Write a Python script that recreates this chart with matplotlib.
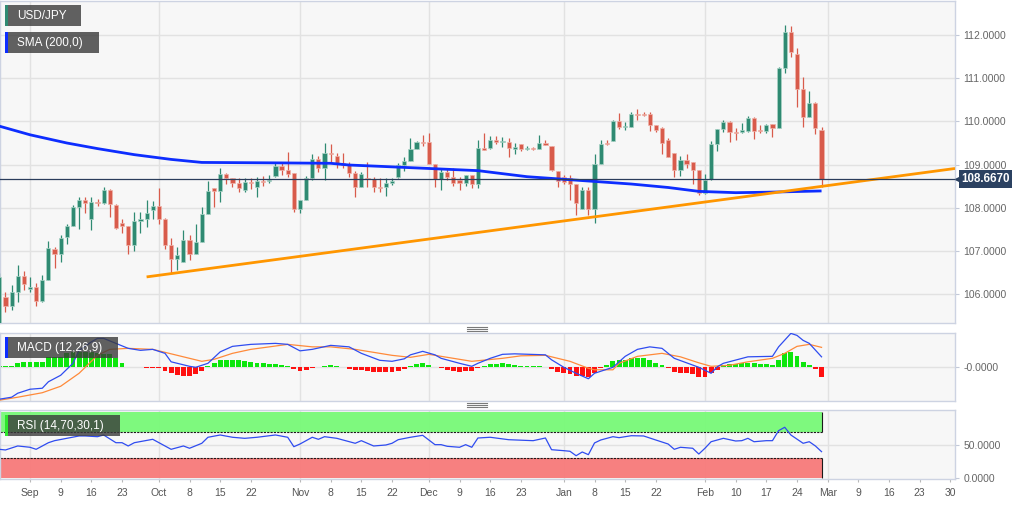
import matplotlib
matplotlib.use('Agg')
import matplotlib.pyplot as plt
import matplotlib.transforms as mtransforms
from matplotlib.patches import Rectangle
from matplotlib.lines import Line2D
import numpy as np
import pandas as pd

plt.rcParams['font.family'] = ['Liberation Sans', 'DejaVu Sans']

# trading days, Aug 26 2019 -> Mar 31 2020 (weekends skipped)
days = pd.bdate_range('2019-08-26', '2020-03-31')

# USD/JPY daily candles, Aug 26 2019 -> Feb 28 2020
opens = [105.30, 105.94, 105.73, 106.06, 106.43, 106.13, 106.17, 105.84, 106.33, 107.05,
         106.92, 107.33, 107.59, 108.01, 108.18, 107.75, 108.14, 108.10, 108.42, 108.06,
         107.65, 107.57, 107.15, 107.69, 107.74, 107.94, 108.04, 107.74, 107.15, 106.82,
         106.75, 107.25, 106.93, 107.21, 107.85, 108.46, 108.38, 108.78, 108.68, 108.58,
         108.41, 108.60, 108.47, 108.61, 108.61, 108.73, 108.96, 108.87, 108.81, 107.98,
         108.19, 108.68, 109.13, 108.91, 109.27, 109.20, 109.03, 108.99, 108.80, 108.49,
         108.70, 108.66, 108.47, 108.47, 108.58, 108.72, 108.99, 109.09, 109.36, 109.52,
         109.52, 109.01, 108.67, 108.83, 108.71, 108.64, 108.58, 108.75, 108.55, 109.39,
         109.39, 109.56, 109.52, 109.53, 109.37, 109.48, 109.35, 109.37, 109.37, 109.51,
         109.43, 108.85, 108.71, 108.70, 108.54, 107.97, 108.41, 107.98, 109.02, 109.50,
         109.55, 110.01, 109.86, 109.87, 110.17, 110.18, 110.17, 109.91, 109.85, 109.56,
         109.26, 108.88, 109.10, 109.05, 108.88, 108.34, 108.67, 109.47, 109.83, 109.99,
         109.76, 109.76, 109.78, 110.07, 109.80, 109.78, 109.93, 109.85, 111.23, 112.08,
         111.57, 110.74, 110.10, 110.43, 109.81]
highs = [106.50, 106.06, 106.21, 106.68, 106.53, 106.39, 106.25, 106.44, 107.22, 107.10,
         107.37, 107.62, 108.06, 108.24, 108.24, 108.25, 108.20, 108.47, 108.44, 108.08,
         107.75, 107.59, 107.91, 107.91, 108.18, 108.16, 108.46, 107.76, 107.29, 107.10,
         107.48, 107.37, 107.62, 108.01, 108.61, 108.46, 108.91, 108.81, 108.69, 108.68,
         108.68, 108.70, 108.71, 108.74, 108.77, 109.06, 109.06, 109.28, 108.81, 108.19,
         108.73, 109.24, 109.20, 109.49, 109.47, 109.26, 109.26, 109.05, 108.86, 108.83,
         109.07, 108.71, 108.68, 108.68, 108.70, 109.03, 109.18, 109.61, 109.55, 109.69,
         109.72, 109.01, 108.91, 108.91, 108.91, 108.71, 108.75, 108.75, 109.58, 109.72,
         109.66, 109.66, 109.64, 109.62, 109.50, 109.48, 109.43, 109.40, 109.68, 109.56,
         109.43, 108.85, 108.75, 108.75, 108.54, 108.47, 108.47, 109.24, 109.58, 109.58,
         110.03, 110.20, 109.98, 110.22, 110.28, 110.22, 110.22, 109.91, 109.87, 109.61,
         109.26, 109.19, 109.25, 109.05, 108.88, 108.79, 109.55, 109.83, 110.03, 110.01,
         109.84, 109.97, 110.12, 110.11, 109.91, 109.95, 109.95, 111.27, 112.23, 112.21,
         111.69, 111.03, 110.70, 110.45, 109.87]
lows = [105.10, 105.59, 105.63, 105.83, 106.09, 106.05, 105.72, 105.83, 106.32, 106.60,
        106.75, 107.17, 107.57, 107.50, 107.88, 107.48, 108.05, 108.08, 107.79, 107.52,
        107.41, 106.94, 107.00, 107.42, 107.56, 107.74, 107.62, 107.04, 106.48, 106.56,
        106.75, 106.79, 106.93, 107.21, 107.85, 108.02, 108.14, 108.56, 108.47, 108.37,
        108.37, 108.44, 108.25, 108.51, 108.58, 108.71, 108.75, 108.71, 107.91, 107.87,
        108.19, 108.64, 108.83, 108.64, 109.03, 108.91, 108.91, 108.72, 108.24, 108.47,
        108.49, 108.37, 108.37, 108.27, 108.52, 108.68, 108.86, 109.09, 109.35, 109.44,
        109.01, 108.47, 108.42, 108.64, 108.50, 108.42, 108.50, 108.45, 108.45, 109.33,
        109.35, 109.47, 109.41, 109.18, 109.25, 109.32, 109.33, 109.33, 109.35, 109.45,
        108.85, 108.47, 108.56, 108.19, 107.83, 107.97, 107.83, 107.64, 109.02, 109.45,
        109.55, 109.83, 109.81, 109.87, 110.04, 110.13, 109.77, 109.76, 109.25, 109.18,
        108.71, 108.73, 108.91, 108.56, 108.29, 108.33, 108.64, 109.32, 109.76, 109.53,
        109.56, 109.72, 109.76, 109.60, 109.72, 109.74, 109.64, 109.84, 111.11, 111.48,
        110.34, 109.87, 110.10, 109.70, 108.48]
closes = [106.40, 105.73, 106.06, 106.43, 106.23, 106.17, 105.84, 106.33, 107.06, 106.92,
          107.31, 107.59, 108.01, 108.18, 108.10, 108.14, 108.10, 108.42, 108.08, 107.54,
          107.57, 107.15, 107.70, 107.74, 107.89, 108.04, 107.74, 107.15, 106.82, 106.90,
          107.25, 106.93, 107.21, 107.85, 108.38, 108.39, 108.78, 108.68, 108.58, 108.46,
          108.60, 108.58, 108.61, 108.60, 108.65, 108.96, 108.88, 108.79, 107.98, 108.18,
          108.68, 109.13, 108.91, 109.26, 109.25, 109.03, 108.99, 108.80, 108.49, 108.78,
          108.67, 108.47, 108.45, 108.58, 108.63, 108.99, 109.09, 109.36, 109.52, 109.49,
          109.01, 108.67, 108.84, 108.71, 108.58, 108.58, 108.75, 108.55, 109.39, 109.33,
          109.56, 109.52, 109.53, 109.39, 109.41, 109.37, 109.37, 109.35, 109.51, 109.45,
          108.87, 108.62, 108.60, 108.54, 108.10, 108.41, 107.97, 109.02, 109.48, 109.47,
          110.01, 109.86, 109.88, 110.17, 110.15, 110.15, 109.91, 109.80, 109.49, 109.18,
          108.88, 109.10, 109.02, 108.88, 108.34, 108.64, 109.47, 109.83, 109.99, 109.76,
          109.72, 109.80, 110.07, 109.78, 109.78, 109.91, 109.85, 111.23, 112.08, 111.61,
          110.74, 110.10, 110.43, 109.84, 108.667]
last_price = 108.667

# 200-day SMA read at some days (day number counted from Aug 26)
sma_day = [0, 5, 11, 16, 22, 28, 33, 45, 54, 57, 62, 70, 78, 86, 98, 103, 109, 114, 120, 125, 134]
sma_val = [109.89, 109.69, 109.50, 109.37, 109.23, 109.12, 109.05, 109.04, 109.03, 108.99, 108.96,
           108.91, 108.86, 108.72, 108.60, 108.55, 108.47, 108.38, 108.35, 108.36, 108.39]

# support trend line (start day, right edge)
trend_day = [24, 155.75]
trend_val = [106.40, 108.91]

# MACD (12,26,9)
macd_day = [0, 2, 3, 5, 7, 8, 10, 12, 13, 15, 16, 17, 19, 21, 23, 25, 27, 28, 31, 32, 34, 36, 38,
            41, 45, 47, 49, 51, 54, 57, 59, 62, 64, 66, 67, 69, 71, 72, 75, 77, 78, 80, 82, 84,
            89, 90, 92, 94, 96, 97, 100, 102, 104, 106, 108, 110, 112, 114, 116, 117, 118, 122,
            126, 127, 129, 130, 131, 132, 134]
macd_val = [-0.65, -0.61, -0.53, -0.45, -0.43, -0.30, -0.17, 0.07, 0.33, 0.50, 0.57, 0.57, 0.47,
            0.37, 0.33, 0.35, 0.27, 0.10, 0.01, -0.01, 0.07, 0.30, 0.41, 0.45, 0.47, 0.45, 0.32,
            0.35, 0.43, 0.40, 0.27, 0.13, 0.11, 0.16, 0.24, 0.31, 0.24, 0.17, 0.07, 0.01, 0.07,
            0.17, 0.25, 0.26, 0.24, 0.14, -0.01, -0.13, -0.24, -0.13, -0.01, 0.21, 0.35, 0.40,
            0.37, 0.17, 0.08, -0.01, -0.13, 0.00, 0.07, 0.20, 0.21, 0.40, 0.67, 0.63, 0.53, 0.47,
            0.20]
signal_day = [0, 3, 7, 10, 13, 16, 18, 21, 25, 29, 33, 35, 38, 41, 47, 51, 54, 58, 62, 64, 67,
              70, 73, 77, 82, 85, 89, 93, 96, 97, 100, 101, 104, 108, 111, 114, 116, 119, 122,
              126, 128, 130, 132, 134]
signal_val = [-0.67, -0.61, -0.52, -0.39, -0.13, 0.23, 0.35, 0.37, 0.35, 0.23, 0.11, 0.15, 0.27,
              0.35, 0.45, 0.40, 0.40, 0.35, 0.27, 0.23, 0.19, 0.25, 0.19, 0.11, 0.17, 0.22, 0.23,
              0.11, -0.03, -0.06, -0.06, 0.07, 0.21, 0.27, 0.20, 0.08, 0.01, 0.03, 0.10, 0.17,
              0.27, 0.41, 0.45, 0.39]
hist = [0.010, 0.014, 0.020, 0.080, 0.094, 0.094, 0.090, 0.100, 0.190, 0.190,
        0.194, 0.280, 0.300, 0.300, 0.290, 0.290, 0.280, 0.260, 0.250, 0.180,
        0.080, -0.010, -0.010, -0.014, -0.016, -0.020, -0.024, -0.080, -0.134, -0.166,
        -0.186, -0.186, -0.140, -0.080, 0.014, 0.080, 0.134, 0.146, 0.146, 0.134,
        0.110, 0.090, 0.080, 0.070, 0.060, 0.054, 0.046, 0.014, -0.054, -0.086,
        -0.066, -0.034, -0.010, 0.020, 0.034, 0.020, -0.006, -0.040, -0.060, -0.066,
        -0.080, -0.100, -0.114, -0.114, -0.106, -0.090, -0.050, 0.014, 0.060, 0.080,
        0.040, -0.010, -0.034, -0.066, -0.086, -0.100, -0.090, -0.086, -0.020, 0.016,
        0.060, 0.066, 0.080, 0.050, 0.036, 0.026, 0.016, 0.014, 0.010, 0.004,
        -0.054, -0.100, -0.120, -0.154, -0.190, -0.190, -0.206, -0.120, -0.034, 0.034,
        0.114, 0.146, 0.146, 0.186, 0.180, 0.186, 0.134, 0.080, 0.034, -0.034,
        -0.100, -0.120, -0.134, -0.154, -0.214, -0.214, -0.134, -0.066, 0.046, 0.066,
        0.066, 0.080, 0.080, 0.080, 0.054, 0.054, 0.046, 0.134, 0.280, 0.300,
        0.214, 0.100, 0.046, -0.046, -0.214]

# RSI (14)
rsi_day = [0, 1, 3, 5, 6, 8, 9, 11, 13, 14, 16, 17, 19, 20, 21, 22, 25, 27, 28, 30, 31, 33, 34,
           36, 38, 40, 42, 45, 47, 48, 49, 51, 52, 53, 55, 58, 59, 61, 63, 64, 65, 67, 69, 71,
           72, 73, 75, 76, 77, 78, 80, 83, 87, 89, 90, 92, 93, 94, 95, 96, 97, 98, 100, 101,
           103, 105, 107, 109, 110, 111, 113, 114, 115, 116, 118, 120, 121, 122, 123, 125, 126,
           127, 128, 129, 131, 132, 133, 134]
rsi_val = [43.4, 42.4, 48.5, 46.5, 43.4, 53.5, 56.6, 60.2, 63.8, 63.8, 62.7, 65.3, 53.5, 53.5,
           48.5, 53.5, 58.7, 48.5, 43.4, 48.5, 45.0, 52.6, 61.8, 65.3, 61.8, 60.2, 61.8, 65.3,
           61.8, 47.4, 51.5, 61.8, 58.7, 62.7, 60.2, 52.6, 56.6, 48.5, 50.0, 52.6, 58.1, 61.8,
           64.8, 50.5, 50.5, 48.0, 46.5, 50.5, 46.5, 60.7, 61.8, 58.1, 56.6, 60.7, 42.8, 41.3,
           40.4, 33.6, 39.3, 35.2, 53.1, 57.6, 62.7, 61.2, 64.2, 63.8, 57.6, 51.5, 43.4, 46.5,
           45.0, 36.2, 45.0, 55.0, 60.2, 56.1, 56.6, 60.2, 55.0, 56.6, 56.6, 71.9, 77.1, 65.3,
           52.6, 55.0, 48.5, 39.8]
rsi_upper = 70
rsi_lower = 30

tick_dates = ['2019-09-02', '2019-09-09', '2019-09-16', '2019-09-23', '2019-10-01', '2019-10-08',
              '2019-10-15', '2019-10-22', '2019-11-01', '2019-11-08', '2019-11-15', '2019-11-22',
              '2019-12-02', '2019-12-09', '2019-12-16', '2019-12-23', '2020-01-01', '2020-01-08',
              '2020-01-15', '2020-01-22', '2020-02-03', '2020-02-10', '2020-02-17', '2020-02-24',
              '2020-03-02', '2020-03-09', '2020-03-16', '2020-03-23', '2020-03-30']

W, H = 1032, 505
fig = plt.figure(figsize=(W / 100, H / 100), dpi=100, facecolor='white')

ax1 = fig.add_axes([0, 1 - 323 / H, 955 / W, 322 / H])
ax2 = fig.add_axes([0, 1 - 401 / H, 955 / W, 68.5 / H])
ax3 = fig.add_axes([0, 1 - 479 / H, 955 / W, 69 / H])

xmin, xmax = 0.11, 155.75
month_starts = [k for k in range(1, len(days)) if days[k].month != days[k - 1].month]

for ax in (ax1, ax2, ax3):
    ax.set_facecolor('#f7f7f7')
    ax.set_xlim(xmin, xmax)
    for s in ax.spines.values():
        s.set_color('#cdd3e2')
        s.set_linewidth(1)
    ax.yaxis.tick_right()
    ax.tick_params(axis='y', labelsize=7.5, labelcolor='#666666', color='#c3c9d8',
                   length=3, width=0.8, pad=3)
    for m in month_starts:
        ax.axvline(m, color='#e2e2e2', lw=1, zorder=0.6)
    ax.set_xticks([])

# ---- price panel
x = np.arange(len(closes))
o = np.array(opens)
c = np.array(closes)
up = c >= o
body_col = np.where(up, '#2f8a72', '#d85b4b')
edge_col = np.where(up, '#a9d3c6', '#efb3aa')

ax1.set_ylim(105.333, 112.787)
ax1.set_yticks([106, 107, 108, 109, 110, 111, 112])
ax1.set_yticklabels(['%.4f' % v for v in [106, 107, 108, 109, 110, 111, 112]])
for v in [106, 107, 108, 109, 110, 111, 112]:
    ax1.axhline(v, color='#e2e2e2', lw=1, zorder=0.6)

ax1.vlines(x, lows, highs, colors=body_col, lw=0.9, zorder=3)
ax1.bar(x, np.maximum(np.abs(c - o), 0.025), bottom=np.minimum(o, c), width=0.68,
        color=body_col, edgecolor=edge_col, linewidth=0.5, zorder=4)

ax1.plot(sma_day, sma_val, color='#0d2dff', lw=2.0, zorder=5, solid_capstyle='butt')
ax1.plot(trend_day, trend_val, color='#ff9600', lw=2.0, zorder=5, solid_capstyle='butt')
ax1.axhline(last_price, color='#2b3d5c', lw=0.9, zorder=6)

blend = mtransforms.blended_transform_factory(ax1.transAxes, ax1.transData)
ax1.plot([1.003], [last_price], marker='<', ms=4.5, color='#2b4161', transform=blend,
         clip_on=False, zorder=7)
ax1.text(1.0065, last_price, '%.4f' % last_price, transform=blend, ha='left', va='center',
         fontsize=8.3, fontweight='bold', color='white', zorder=8,
         bbox=dict(boxstyle='square,pad=0.22', facecolor='#2b4161', edgecolor='none'))

# ---- MACD panel
ax2.set_ylim(-0.686, 0.688)
ax2.set_yticks([0])
ax2.set_yticklabels(['-0.0000'])
ax2.axhline(0, color='#e2e2e2', lw=1, zorder=0.6)
h = np.array(hist)
ax2.bar(np.arange(len(h)), h, width=0.8, color=np.where(h >= 0, '#0de60d', '#ff1010'),
        linewidth=0, zorder=2)
ax2.plot(signal_day, signal_val, color='#ff8a3a', lw=0.9, zorder=3)
ax2.plot(macd_day, macd_val, color='#2f4cf0', lw=0.9, zorder=4)

# ---- RSI panel
ax3.set_ylim(-2, 103.5)
ax3.set_yticks([0, 50])
ax3.set_yticklabels(['0.0000', '50.0000'])
ax3.axhline(50, color='#e2e2e2', lw=1, zorder=0.6)
band_end = len(closes) - 1 + 0.03
ax3.add_patch(Rectangle((xmin, rsi_upper), band_end - xmin, 100 - rsi_upper,
                        facecolor='#78fa78', alpha=0.95, edgecolor='none', zorder=0.8))
ax3.add_patch(Rectangle((xmin, 0), band_end - xmin, rsi_lower,
                        facecolor='#f87a7a', alpha=0.95, edgecolor='none', zorder=0.8))
ax3.hlines([rsi_upper, rsi_lower], xmin, band_end, colors='#1a1a1a', lw=0.8,
           linestyles=(0, (2, 1)), zorder=0.9)
ax3.vlines([band_end, band_end], [rsi_upper, 0], [100, rsi_lower], colors='#1a1a1a',
           lw=0.8, zorder=0.9)
ax3.plot(rsi_day, rsi_val, color='#2f4cf0', lw=0.9, zorder=4)

tick_pos = [days.get_loc(pd.Timestamp(d)) for d in tick_dates]
tick_lab = []
for p in tick_pos:
    d = days[p]
    if p in month_starts:
        tick_lab.append(d.strftime('%b'))
    else:
        tick_lab.append(str(d.day))
ax3.set_xticks(tick_pos)
ax3.set_xticklabels(tick_lab)
ax3.tick_params(axis='x', labelsize=7.5, labelcolor='#555555', color='#b8b8b8',
                length=2.5, width=0.8, pad=4)


# ---- panel tags
def tag(x0, y0, w, hgt, label, stripe):
    fig.add_artist(Rectangle((x0 / W, 1 - (y0 + hgt) / H), w / W, hgt / H,
                             transform=fig.transFigure, facecolor='#3a3a3a', alpha=0.8,
                             edgecolor='none', zorder=10))
    fig.add_artist(Rectangle((x0 / W, 1 - (y0 + hgt) / H), 2.5 / W, hgt / H,
                             transform=fig.transFigure, facecolor=stripe,
                             edgecolor='none', zorder=11))
    fig.text((x0 + 12) / W, 1 - (y0 + hgt / 2 + 0.5) / H, label, color='white',
             fontsize=8.5, ha='left', va='center', zorder=12)


tag(5, 5, 76, 21, 'USD/JPY', '#2f8a72')
tag(5, 32, 94, 21, 'SMA (200,0)', '#0d2dff')
tag(5, 337, 113, 20.5, 'MACD (12,26,9)', '#0d2dff')
tag(5, 415, 115, 21, 'RSI (14,70,30,1)', '#2ee62e')

# panel separators (drag handles)
for yy in (326.7, 328.7, 330.7, 403.3, 405.3, 407.3):
    fig.add_artist(Line2D([466.5 / W, 486.5 / W], [1 - yy / H, 1 - yy / H],
                          transform=fig.transFigure, color='#7a7a7a', lw=0.8))

fig.savefig('out.png', dpi=100, facecolor='white')
